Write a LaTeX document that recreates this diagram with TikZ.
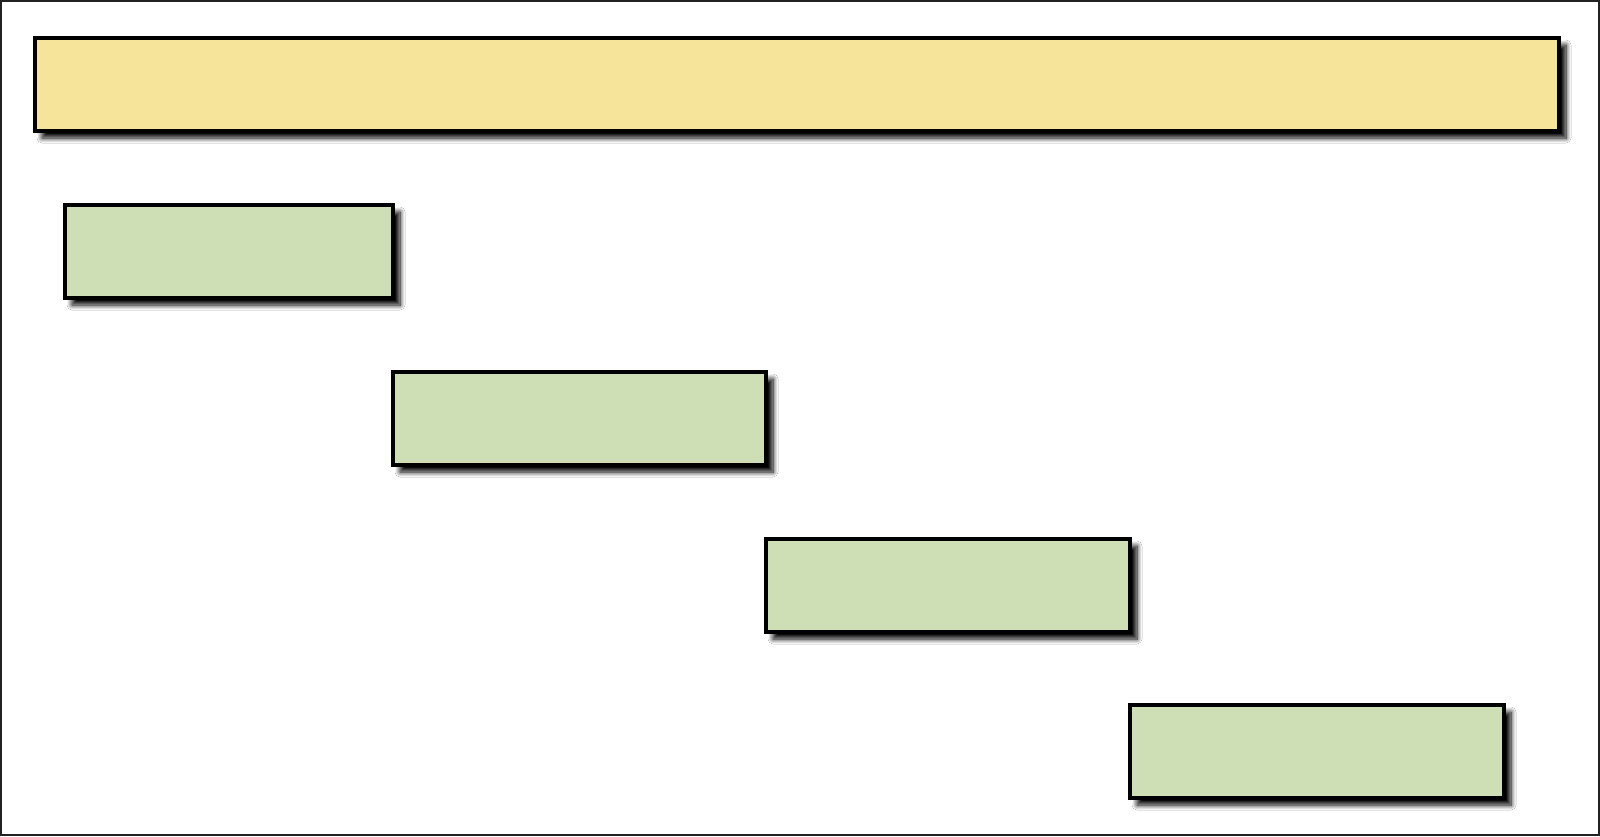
\documentclass[tikz,border=0pt]{standalone}
\usetikzlibrary{shadows.blur}
\definecolor{ybox}{HTML}{F6E49A}
\definecolor{gbox}{HTML}{CEDFB6}
\definecolor{framec}{HTML}{222222}
\begin{document}
\begin{tikzpicture}[x=0.5pt,y=-0.5pt,
  boxstyle/.style={draw=black, line width=2pt, rectangle, inner sep=0pt, outer sep=0pt,
    blur shadow={shadow xshift=3.5pt, shadow yshift=-3.5pt, shadow blur radius=2.5pt, shadow blur steps=10, shadow opacity=100}},
  yellowbox/.style={boxstyle, fill=ybox},
  greenbox/.style={boxstyle, fill=gbox}]
\useasboundingbox (0,0) rectangle (1600,836);
\fill[white] (0,0) rectangle (1600,836);
\draw[framec, line width=1pt] (1,1) rectangle (1599,835);
\draw[yellowbox] (35,38) rectangle (1559,131) node[pos=0.5, inner sep=0pt] (top) {};
\draw[greenbox] (65,205) rectangle (393,298) node[pos=0.5, inner sep=0pt] (g1) {};
\draw[greenbox] (393,372) rectangle (766,465) node[pos=0.5, inner sep=0pt] (g2) {};
\draw[greenbox] (766,539) rectangle (1130,632) node[pos=0.5, inner sep=0pt] (g3) {};
\draw[greenbox] (1130,705) rectangle (1504,798) node[pos=0.5, inner sep=0pt] (g4) {};
\end{tikzpicture}
\end{document}
